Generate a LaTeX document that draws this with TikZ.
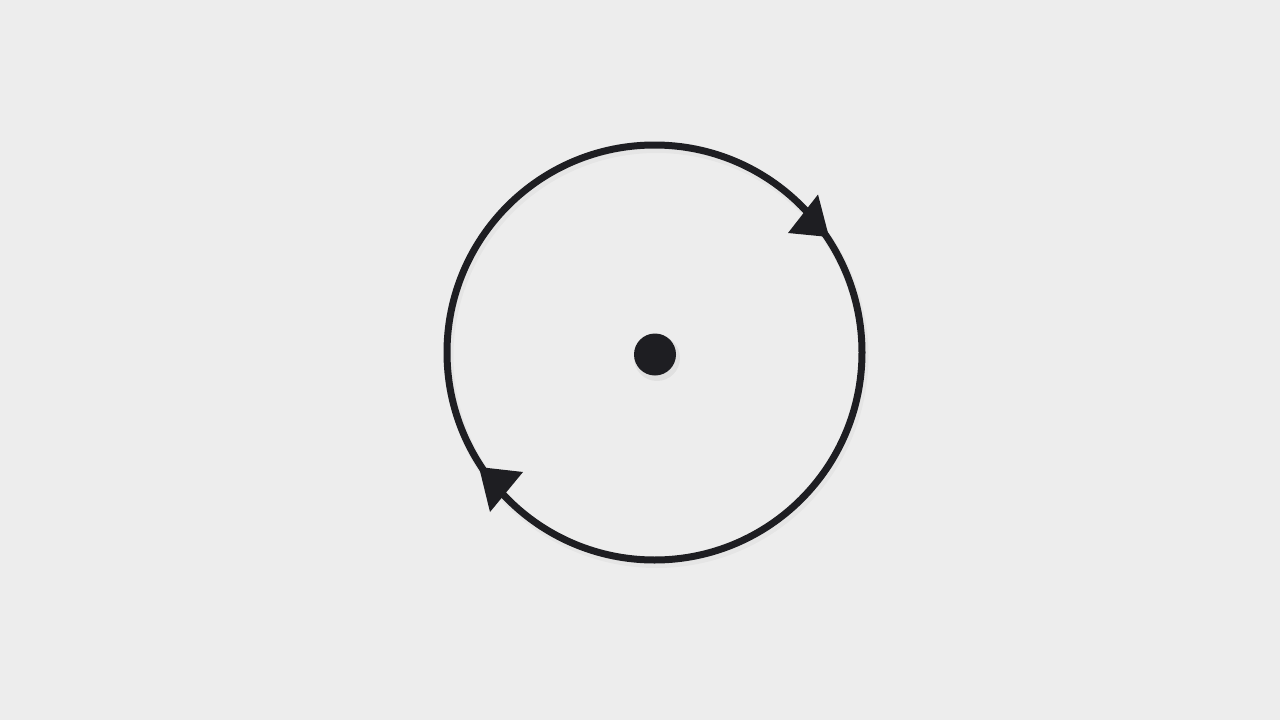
\documentclass[tikz,border=0pt]{standalone}
\definecolor{bg}{RGB}{237,237,237}
\definecolor{ink}{RGB}{30,30,34}
\tikzset{ring/.style={draw=ink,line width=7pt},tipmark/.style={fill=ink,draw=none}}
\begin{document}
\begin{tikzpicture}[x=1pt,y=-1pt]
\fill[bg] (0,0) rectangle (1280,720);
\useasboundingbox (0,0) rectangle (1280,720);
\coordinate (c) at (654.5,352.5);
% faint shadows
\fill[black,opacity=0.05] (657,358) circle (23);
\draw[black,opacity=0.03,line width=9pt] (656.5,356) circle (207.5);
\draw[ring] (c) circle (207.5);
\fill[ink] (655,354.5) circle (21);
\fill[tipmark] (818,194.5) -- (829,237) -- (788,233) -- cycle;
\fill[tipmark] (490,512) -- (479,467) -- (523,472) -- cycle;
\end{tikzpicture}
\end{document}
